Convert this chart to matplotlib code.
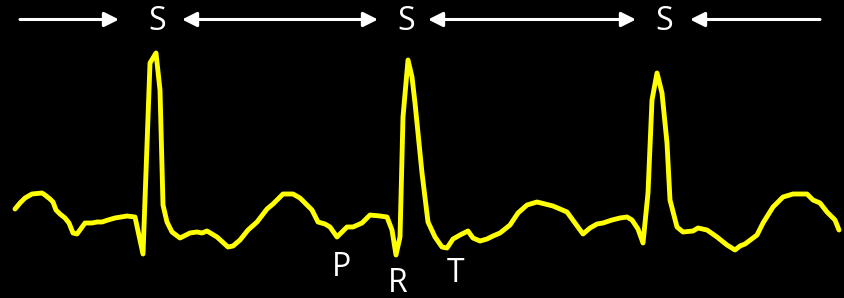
import matplotlib.pyplot as plt

# ECG trace in pixel coordinates (y grows downward)
ecg_x = [15, 20, 25, 32, 42, 45, 50, 53, 56, 60, 65, 69, 73, 77, 85, 92, 97, 102,
         108, 115, 127, 135, 143, 150, 156, 160, 163, 167, 172, 180, 190, 197,
         202, 207, 217, 228, 233, 240, 248, 257, 267, 273, 283, 293, 300,
         312, 318, 325, 330, 337, 347, 353, 362, 370, 380, 387, 392, 396, 400,
         403, 408, 412, 415, 422, 428, 435, 442, 447, 453, 460, 468, 473, 480,
         487, 493, 500, 510, 518, 527, 537, 553, 567, 575, 583, 590, 597, 603,
         612, 620, 627, 632, 638, 643, 648, 652, 657, 662, 667, 670, 677, 683,
         693, 698, 707, 717, 727, 735, 740, 745, 757, 763, 773, 783, 793, 807,
         813, 820, 827, 835, 839]
ecg_y = [209, 203, 198, 194, 193, 195, 199, 202, 210, 214, 218, 223, 233, 234,
         223, 223, 222, 222, 220, 218, 216, 217, 254, 63, 53, 90, 205, 222, 232,
         238, 233, 232, 233, 231, 237, 247, 246, 240, 230, 222, 209, 204, 194,
         194, 198, 210, 222, 224, 227, 237, 227, 227, 223, 215, 216, 217, 230,
         255, 237, 117, 60, 77, 103, 173, 222, 237, 247, 248, 239, 235, 231,
         238, 241, 239, 236, 233, 225, 213, 205, 202, 206, 212, 223, 234, 228,
         224, 223, 220, 218, 217, 220, 229, 243, 193, 100, 73, 93, 143, 200,
         227, 232, 231, 228, 230, 237, 245, 250, 246, 244, 235, 223, 207, 197,
         194, 194, 200, 203, 212, 220, 230]

s_labels = ['S', 'S', 'S']
s_x = [157, 406, 664]
wave_labels = ['P', 'R', 'T']
wave_x = [342, 398, 456]
wave_y = [267, 283, 273]

# arrows: (start, end, style)
arrows = [(20, 119, '-|>'), (182, 378, '<|-|>'), (428, 636, '<|-|>'), (690, 820, '<|-')]
arrow_y = 19.5

fig = plt.figure(figsize=(8.45, 2.98), dpi=100, facecolor='black')
ax = fig.add_axes([0, 0, 1, 1])
ax.set_facecolor('black')
ax.set_xlim(0, 845)
ax.set_ylim(298, 0)
ax.axis('off')

ax.plot(ecg_x, ecg_y, color='#ffff00', lw=3.5, solid_joinstyle='round',
        solid_capstyle='round')

font = dict(color='white', fontsize=23, family='Open Sans', ha='center', va='center')
for lab, x in zip(s_labels, s_x):
    ax.text(x, 22, lab, **font)
for lab, x, y in zip(wave_labels, wave_x, wave_y):
    ax.text(x, y, lab, **font)

for x0, x1, style in arrows:
    ax.annotate('', xy=(x1, arrow_y), xytext=(x0, arrow_y),
                arrowprops=dict(arrowstyle=style, color='white', lw=2.2,
                                mutation_scale=22, shrinkA=0, shrinkB=0))

fig.savefig('out.png', dpi=100, facecolor='black')
